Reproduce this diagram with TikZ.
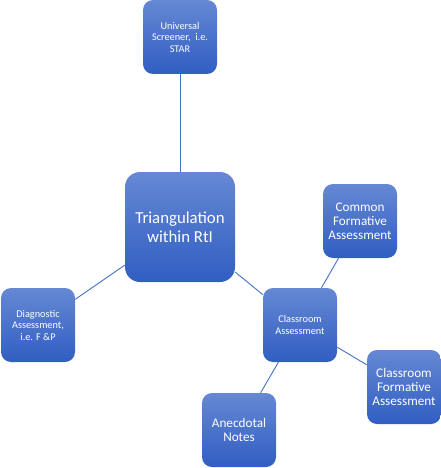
\documentclass[tikz,border=0pt]{standalone}
\usepackage{fontspec}
\setmainfont{Carlito}
\definecolor{boxtop}{RGB}{102,136,212}
\definecolor{boxbot}{RGB}{48,94,194}
\definecolor{linkblue}{RGB}{68,114,196}
\tikzset{
  smartbox/.style={rounded corners=10pt,top color=boxtop,bottom color=boxbot,
    text=white,align=center,inner sep=0pt,minimum width=74pt,minimum height=74pt},
  bigbox/.style={smartbox,rounded corners=15pt,minimum width=110pt,minimum height=110pt,
    font=\fontsize{16.8}{18.5}\selectfont},
  smalltext/.style={font=\fontsize{10.3}{11.5}\selectfont},
  midtext/.style={font=\fontsize{13.2}{14.2}\selectfont},
  link/.style={draw=linkblue,line width=0.9pt}
}
\begin{document}
\begin{tikzpicture}[x=1pt,y=-1pt]
        \useasboundingbox (0,0) rectangle (441,468);
        \node[bigbox] (rti) at (180,227) {Triangulation\\within RtI};
        \node[smartbox,smalltext] (star) at (180,37) {Universal\\Screener,\ \ i.e.\\STAR};
        \node[smartbox,smalltext] (diag) at (38,325) {Diagnostic\\Assessment,\\i.e. F \&P};
        \node[smartbox,smalltext] (class) at (300,325) {Classroom\\Assessment};
        \node[smartbox,midtext] (common) at (360,221) {Common\\Formative\\Assessment};
        \node[smartbox,midtext] (cform) at (404,387) {Classroom\\Formative\\Assessment};
        \node[smartbox,midtext] (notes) at (239,430) {Anecdotal\\Notes};
        \draw[link] (rti) -- (star);
        \draw[link] (rti) -- (diag);
        \draw[link] (rti) -- (class);
        \draw[link] (class) -- (common);
        \draw[link] (class) -- (cform);
        \draw[link] (class) -- (notes);
    \end{tikzpicture}
\end{document}
